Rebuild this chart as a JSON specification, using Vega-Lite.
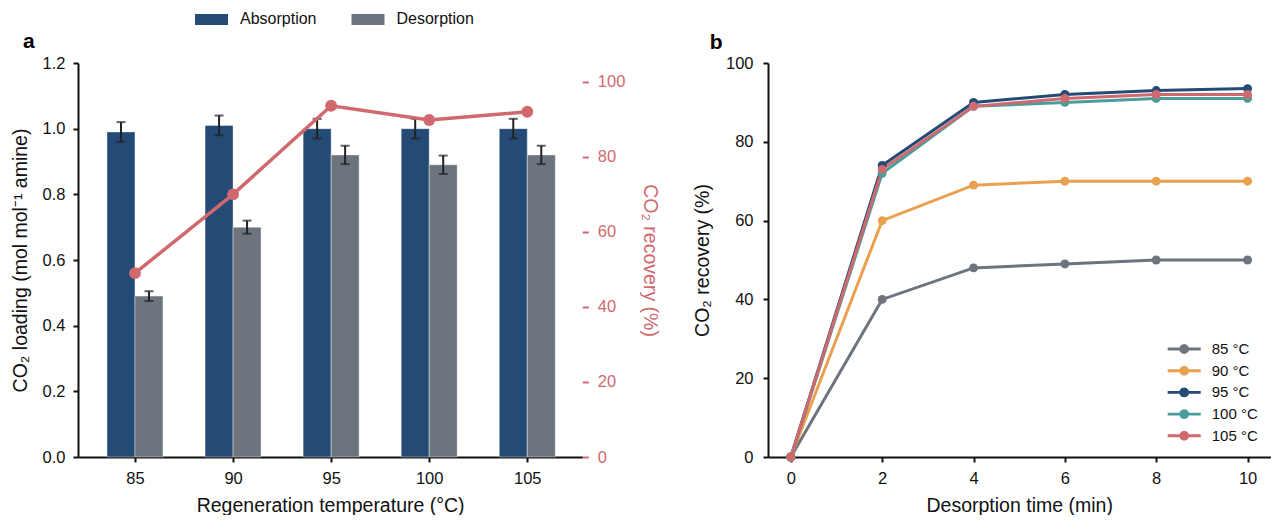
{
  "$schema": "https://vega.github.io/schema/vega-lite/v6.json",
  "padding": {"left": 10, "top": 2, "right": 0, "bottom": 0},
  "spacing": 185,
  "bounds": "flush",
  "datasets": {
    "loading": [
      {"temp": 85, "series": "Absorption", "value": 0.99, "err": 0.03},
      {"temp": 85, "series": "Desorption", "value": 0.49, "err": 0.015},
      {"temp": 90, "series": "Absorption", "value": 1.01, "err": 0.03},
      {"temp": 90, "series": "Desorption", "value": 0.70, "err": 0.02},
      {"temp": 95, "series": "Absorption", "value": 1.00, "err": 0.03},
      {"temp": 95, "series": "Desorption", "value": 0.92, "err": 0.028},
      {"temp": 100, "series": "Absorption", "value": 1.00, "err": 0.03},
      {"temp": 100, "series": "Desorption", "value": 0.89, "err": 0.028},
      {"temp": 105, "series": "Absorption", "value": 1.00, "err": 0.03},
      {"temp": 105, "series": "Desorption", "value": 0.92, "err": 0.028}
    ],
    "recovery": [
      {"temp": 85, "recovery": 49},
      {"temp": 90, "recovery": 70},
      {"temp": 95, "recovery": 93.6},
      {"temp": 100, "recovery": 89.8},
      {"temp": 105, "recovery": 92}
    ],
    "kinetics": [
      {"temp": "85 °C", "time": 0, "recovery": 0},
      {"temp": "85 °C", "time": 2, "recovery": 40},
      {"temp": "85 °C", "time": 4, "recovery": 48},
      {"temp": "85 °C", "time": 6, "recovery": 49},
      {"temp": "85 °C", "time": 8, "recovery": 50},
      {"temp": "85 °C", "time": 10, "recovery": 50},
      {"temp": "90 °C", "time": 0, "recovery": 0},
      {"temp": "90 °C", "time": 2, "recovery": 60},
      {"temp": "90 °C", "time": 4, "recovery": 69},
      {"temp": "90 °C", "time": 6, "recovery": 70},
      {"temp": "90 °C", "time": 8, "recovery": 70},
      {"temp": "90 °C", "time": 10, "recovery": 70},
      {"temp": "95 °C", "time": 0, "recovery": 0},
      {"temp": "95 °C", "time": 2, "recovery": 74},
      {"temp": "95 °C", "time": 4, "recovery": 90},
      {"temp": "95 °C", "time": 6, "recovery": 92},
      {"temp": "95 °C", "time": 8, "recovery": 93},
      {"temp": "95 °C", "time": 10, "recovery": 93.5},
      {"temp": "100 °C", "time": 0, "recovery": 0},
      {"temp": "100 °C", "time": 2, "recovery": 72},
      {"temp": "100 °C", "time": 4, "recovery": 89},
      {"temp": "100 °C", "time": 6, "recovery": 90},
      {"temp": "100 °C", "time": 8, "recovery": 91},
      {"temp": "100 °C", "time": 10, "recovery": 91},
      {"temp": "105 °C", "time": 0, "recovery": 0},
      {"temp": "105 °C", "time": 2, "recovery": 73},
      {"temp": "105 °C", "time": 4, "recovery": 89},
      {"temp": "105 °C", "time": 6, "recovery": 91},
      {"temp": "105 °C", "time": 8, "recovery": 92},
      {"temp": "105 °C", "time": 10, "recovery": 92}
    ]
  },
  "hconcat": [
    {
      "width": 504.3,
      "height": 394,
      "title": {"text": "a", "anchor": "start", "frame": "group", "dx": -55, "dy": 64, "offset": 15, "fontSize": 21, "fontWeight": "bold", "color": "#000"},
      "layer": [
        {
          "data": {"name": "loading"},
          "encoding": {
            "x": {
              "field": "temp", "type": "quantitative",
              "scale": {"domain": [82.35, 107.55], "nice": false, "zero": false},
              "axis": {"values": [85, 90, 95, 100, 105], "format": "d", "title": "Regeneration temperature (°C)"}
            },
            "y": {
              "field": "value", "type": "quantitative",
              "scale": {"domain": [0, 1.2], "nice": false},
              "axis": {"values": [0, 0.2, 0.4, 0.6, 0.8, 1.0, 1.2], "format": ".1f", "title": "CO₂ loading (mol mol⁻¹ amine)", "titlePadding": 12}
            }
          },
          "layer": [
            {
              "transform": [{"filter": "datum.series === 'Absorption'"}],
              "mark": {"type": "bar", "width": 28, "xOffset": -14, "stroke": "#ffffff", "strokeWidth": 0.8, "strokeOpacity": 0.5},
              "encoding": {
                "color": {
                  "field": "series", "type": "nominal",
                  "scale": {"domain": ["Absorption", "Desorption"], "range": ["#244a76", "#6d747e"]},
                  "legend": {
                    "orient": "none", "legendX": 117, "legendY": -60.3, "direction": "horizontal",
                    "title": null, "padding": 0,
                    "symbolType": "M-1,-0.33H1V0.33H-1Z", "symbolSize": 1089, "symbolStrokeWidth": 0,
                    "labelFontSize": 16, "labelOffset": 12, "columnPadding": 34.5, "labelColor": "#111"
                  }
                }
              }
            },
            {
              "transform": [{"filter": "datum.series === 'Desorption'"}],
              "mark": {"type": "bar", "width": 28, "xOffset": 14, "stroke": "#ffffff", "strokeWidth": 0.8, "strokeOpacity": 0.5},
              "encoding": {
                "color": {"field": "series", "type": "nominal"}
              }
            },
            {
              "transform": [{"filter": "datum.series === 'Absorption'"}],
              "mark": {"type": "errorbar", "color": "#222", "ticks": {"size": 9, "thickness": 2, "xOffset": -14, "color": "#222"}, "rule": {"strokeWidth": 2, "xOffset": -14, "color": "#222"}},
              "encoding": {"yError": {"field": "err"}}
            },
            {
              "transform": [{"filter": "datum.series === 'Desorption'"}],
              "mark": {"type": "errorbar", "color": "#222", "ticks": {"size": 9, "thickness": 2, "xOffset": 14, "color": "#222"}, "rule": {"strokeWidth": 2, "xOffset": 14, "color": "#222"}},
              "encoding": {"yError": {"field": "err"}}
            }
          ]
        },
        {
          "data": {"name": "recovery"},
          "encoding": {
            "x": {"field": "temp", "type": "quantitative"},
            "y": {
              "field": "recovery", "type": "quantitative",
              "scale": {"domain": [0, 105], "nice": false},
              "axis": {
                "orient": "right", "values": [0, 20, 40, 60, 80, 100], "domain": false,
                "tickColor": "#d0696e", "labelColor": "#d0696e", "titleColor": "#d0696e",
                "tickSize": 6, "labelPadding": 9, "title": "CO₂ recovery (%)", "titlePadding": 15
              }
            }
          },
          "layer": [
            {"mark": {"type": "line", "color": "#d0696e", "strokeWidth": 3.5}},
            {"mark": {"type": "point", "filled": true, "color": "#d0696e", "size": 140, "opacity": 1}}
          ]
        }
      ],
      "resolve": {"scale": {"y": "independent"}}
    },
    {
      "width": 502.4,
      "height": 394,
      "title": {"text": "b", "anchor": "start", "frame": "group", "dx": -58.3, "dy": 13, "offset": 15, "fontSize": 21, "fontWeight": "bold", "color": "#000"},
      "data": {"name": "kinetics"},
      "encoding": {
        "x": {
          "field": "time", "type": "quantitative",
          "scale": {"domain": [-0.5, 10.5], "nice": false, "zero": false},
          "axis": {"values": [0, 2, 4, 6, 8, 10], "title": "Desorption time (min)"}
        },
        "y": {
          "field": "recovery", "type": "quantitative",
          "scale": {"domain": [0, 100], "nice": false},
          "axis": {"values": [0, 20, 40, 60, 80, 100], "title": "CO₂ recovery (%)", "titlePadding": 13, "labelPadding": 10}
        }
      },
      "layer": [
        {
          "mark": {"type": "line", "strokeWidth": 3},
          "encoding": {
            "stroke": {
              "field": "temp", "type": "nominal",
              "scale": {"domain": ["85 °C", "90 °C", "95 °C", "100 °C", "105 °C"], "range": ["#6d747e", "#e9a14f", "#244a76", "#4a9e9a", "#d0696e"]},
              "legend": {
                "orient": "none", "legendX": 408.7, "legendY": 278.5, "title": null, "padding": 0,
                "symbolType": "M-2.36,-0.21L2.36,-0.21L2.36,0.21L-2.36,0.21Z M0.71,0L0.615,0.355L0.355,0.615L0,0.71L-0.355,0.615L-0.615,0.355L-0.71,0L-0.615,-0.355L-0.355,-0.615L0,-0.71L0.355,-0.615L0.615,-0.355Z",
                "symbolSize": 196, "symbolStrokeWidth": 0,
                "labelFontSize": 15, "labelOffset": 20, "rowPadding": 5.7, "labelColor": "#111"
              }
            }
          }
        },
        {
          "mark": {"type": "point", "filled": true, "size": 80, "opacity": 1},
          "encoding": {
            "fill": {
              "field": "temp", "type": "nominal",
              "scale": {"domain": ["85 °C", "90 °C", "95 °C", "100 °C", "105 °C"], "range": ["#6d747e", "#e9a14f", "#244a76", "#4a9e9a", "#d0696e"]},
              "legend": {
                "orient": "none", "legendX": 408.7, "legendY": 278.5, "title": null, "padding": 0,
                "symbolType": "M-2.36,-0.21L2.36,-0.21L2.36,0.21L-2.36,0.21Z M0.71,0L0.615,0.355L0.355,0.615L0,0.71L-0.355,0.615L-0.615,0.355L-0.71,0L-0.615,-0.355L-0.355,-0.615L0,-0.71L0.355,-0.615L0.615,-0.355Z",
                "symbolSize": 196, "symbolStrokeWidth": 0,
                "labelFontSize": 15, "labelOffset": 20, "rowPadding": 5.7, "labelColor": "#111"
              }
            }
          }
        }
      ]
    }
  ],
  "resolve": {"scale": {"color": "independent", "fill": "independent", "stroke": "independent", "x": "independent", "y": "independent"}, "legend": {"color": "independent", "fill": "independent", "stroke": "independent"}},
  "config": {
    "font": "Liberation Sans",
    "view": {"stroke": null},
    "axis": {
      "grid": false,
      "domainColor": "#111", "domainWidth": 2,
      "tickColor": "#111", "tickWidth": 2, "tickSize": 5,
      "labelFontSize": 16.5, "labelColor": "#111", "labelPadding": 8,
      "titleFontSize": 19.5, "titleFontWeight": "normal", "titleColor": "#111", "titlePadding": 10
    }
  }
}
